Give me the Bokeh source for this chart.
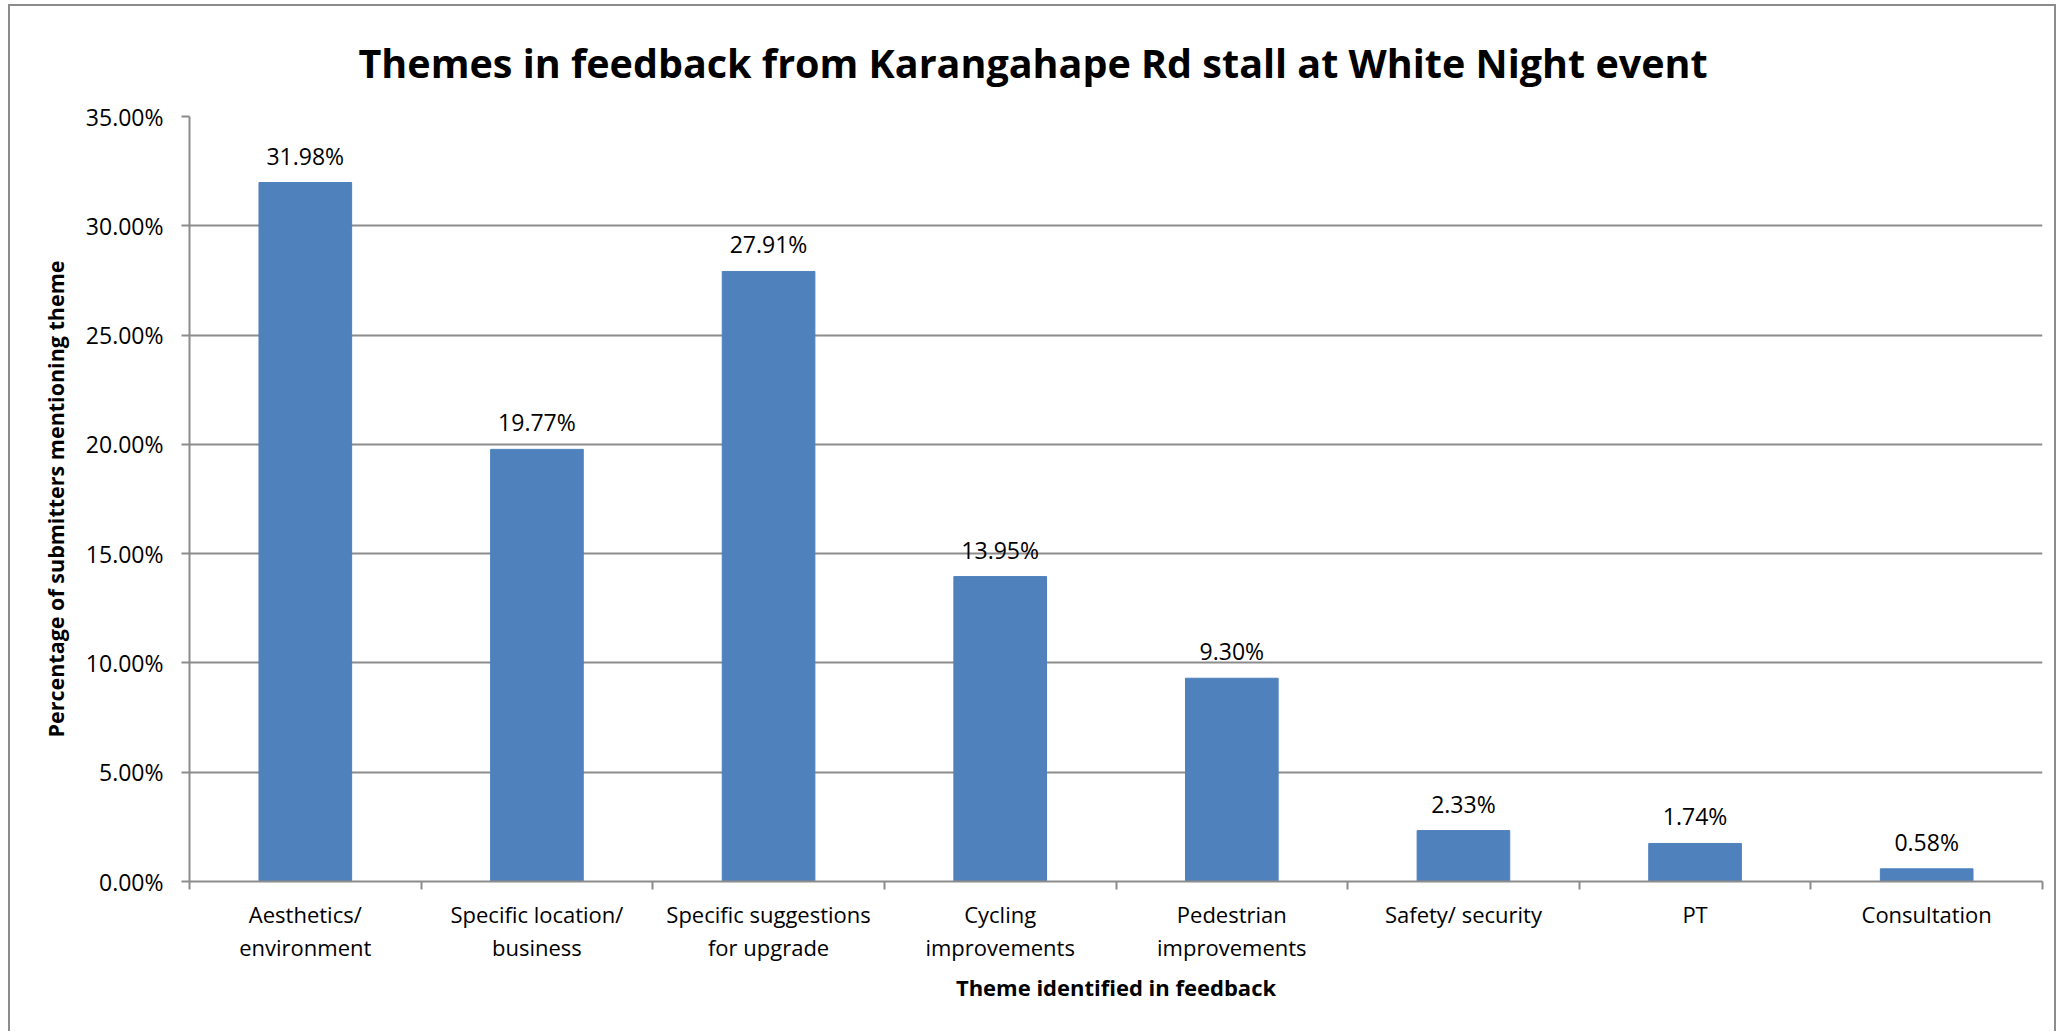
import numpy as np
from bokeh.plotting import figure
from bokeh.models import ColumnDataSource, LabelSet, FixedTicker, NumeralTickFormatter, Range1d
from bokeh.core.properties import value
from bokeh.embed import file_html
from bokeh.resources import INLINE

# ---- data ----
categories = ["Aesthetics/\nenvironment", "Specific location/\nbusiness",
              "Specific suggestions\nfor upgrade", "Cycling\nimprovements",
              "Pedestrian\nimprovements", "Safety/ security", "PT", "Consultation"]
shares = [0.3198, 0.1977, 0.2791, 0.1395, 0.0930, 0.0233, 0.0174, 0.0058]
y_ticks = [0.0, 0.05, 0.10, 0.15, 0.20, 0.25, 0.30, 0.35]

title_text = "Themes in feedback from Karangahape Rd stall at White Night event"
x_title = "Theme identified in feedback"
y_title = "Percentage of submitters mentioning theme"

n = len(categories)
centers = [i + 0.5 for i in range(n)]
bounds = [float(i) for i in range(n + 1)]
bar_labels = [f"{v*100:.2f}%" for v in shares]

src = ColumnDataSource(dict(x=centers, top=shares, lab=bar_labels))

FONT = "Open Sans"
GRAY = "#8c8c8c"
BAR = "#4F81BD"

p = figure(width=2048, height=1027, output_backend="svg", toolbar_location=None,
           x_range=Range1d(0, n), y_range=Range1d(0, 0.35),
           min_border_left=179, min_border_right=16, min_border_top=110, min_border_bottom=152)
p.styles = {"border-left": "2px solid #8c8c8c", "border-right": "2px solid #8c8c8c",
            "border-top": "2px solid #8c8c8c", "margin-left": "8px", "margin-top": "4px"}

p.vbar(x="x", top="top", width=0.4, source=src, fill_color=BAR, line_color=BAR)

labels = LabelSet(x="x", y="top", text="lab", source=src, y_offset=27,
                  text_align="center", text_baseline="middle",
                  text_font=value(FONT), text_font_size="23px", text_color="black")
p.add_layout(labels)

# title
p.title.text = title_text
p.title.align = "left"
p.title.text_font = FONT
p.title.text_font_style = "bold"
p.title.text_font_size = "39.5px"
p.title.text_color = "black"
p.title.offset = 169
p.title.standoff = 53

# x axis
xa = p.xaxis[0]
xa.ticker = FixedTicker(ticks=centers, minor_ticks=bounds)
xa.major_label_overrides = {c: lab for c, lab in zip(centers, categories)}
xa.major_tick_out = 0
xa.major_tick_in = 0
xa.minor_tick_out = 8
xa.minor_tick_in = 0
xa.minor_tick_line_color = GRAY
xa.minor_tick_line_width = 2
xa.axis_line_color = GRAY
xa.axis_line_width = 2
xa.major_label_text_font = FONT
xa.major_label_text_font_size = "22px"
xa.major_label_text_color = "black"
xa.major_label_text_line_height = 1.1
xa.major_label_standoff = 9
xa.axis_label = x_title
xa.axis_label_text_font = FONT
xa.axis_label_text_font_style = "bold"
xa.axis_label_text_font_size = "22px"
xa.axis_label_text_color = "black"
xa.axis_label_standoff = 7

# y axis
ya = p.yaxis[0]
ya.ticker = FixedTicker(ticks=y_ticks)
ya.formatter = NumeralTickFormatter(format="0.00%")
ya.major_tick_out = 8
ya.major_tick_in = 0
ya.minor_tick_line_color = None
ya.major_tick_line_color = GRAY
ya.major_tick_line_width = 2
ya.axis_line_color = GRAY
ya.axis_line_width = 2
ya.major_label_text_font = FONT
ya.major_label_text_font_size = "23px"
ya.major_label_text_color = "black"
ya.major_label_standoff = 18
ya.axis_label = y_title
ya.axis_label_text_font = FONT
ya.axis_label_text_font_style = "bold"
ya.axis_label_text_font_size = "21.5px"
ya.axis_label_text_color = "black"
ya.axis_label_standoff = 13

p.xgrid.grid_line_color = None
p.ygrid.ticker = FixedTicker(ticks=y_ticks)
p.ygrid.grid_line_color = GRAY
p.ygrid.grid_line_width = 2
p.outline_line_color = None
p.background_fill_color = "white"
p.border_fill_color = "white"

open("out.html", "w").write(file_html(p, INLINE))
